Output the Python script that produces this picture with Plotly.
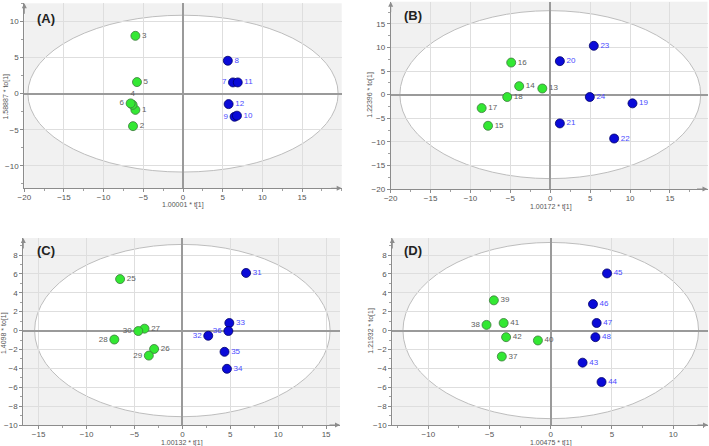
import plotly.graph_objects as go

# ---------------- data ----------------
panel_names = ["(A)", "(B)", "(C)", "(D)"]
x_titles = ["1.00001 * t[1]", "1.00172 * t[1]", "1.00132 * t[1]", "1.00475 * t[1]"]
y_titles = ["1.58887 * to[1]", "1.22396 * to[1]", "1.4098 * to[1]", "1.21932 * to[1]"]

# Panel A
a_labels = ["1", "2", "3", "4", "5", "6", "7", "8", "9", "10", "11", "12"]
a_x = [-6.0, -6.3, -6.0, -6.35, -5.8, -6.6, 6.3, 5.65, 6.5, 6.8, 6.9, 5.75]
a_y = [-2.25, -4.5, 8.0, -1.55, 1.6, -1.35, 1.55, 4.55, -3.2, -3.05, 1.55, -1.45]
a_group = ["g", "g", "g", "g", "g", "g", "b", "b", "b", "b", "b", "b"]

# Panel B
b_labels = ["13", "14", "15", "16", "17", "18", "19", "20", "21", "22", "23", "24"]
b_x = [-1.0, -3.9, -7.8, -4.9, -8.6, -5.4, 10.3, 1.2, 1.2, 8.0, 5.45, 4.95]
b_y = [1.3, 1.8, -6.6, 6.8, -2.85, -0.5, -1.85, 7.1, -6.1, -9.3, 10.35, -0.5]
b_group = ["g", "g", "g", "g", "g", "g", "b", "b", "b", "b", "b", "b"]

# Panel C
c_labels = ["25", "26", "27", "28", "29", "30", "31", "32", "33", "34", "35", "36"]
c_x = [-6.5, -2.95, -3.95, -7.1, -3.5, -4.6, 6.65, 2.7, 4.9, 4.65, 4.4, 4.8]
c_y = [5.45, -1.95, 0.2, -0.95, -2.65, -0.05, 6.1, -0.55, 0.8, -4.05, -2.25, -0.05]
c_group = ["g", "g", "g", "g", "g", "g", "b", "b", "b", "b", "b", "b"]

# Panel D
d_labels = ["37", "38", "39", "40", "41", "42", "43", "44", "45", "46", "47", "48"]
d_x = [-4.0, -5.25, -4.65, -1.05, -3.85, -3.65, 2.6, 4.15, 4.6, 3.45, 3.75, 3.65]
d_y = [-2.75, 0.6, 3.2, -1.05, 0.8, -0.7, -3.4, -5.45, 6.05, 2.8, 0.8, -0.7]
d_group = ["g", "g", "g", "g", "g", "g", "b", "b", "b", "b", "b", "b"]

# Hotelling T2 ellipse semi-axes (x, y)
ellipse_rx = [19.55, 18.85, 15.42, 12.08]
ellipse_ry = [10.85, 17.8, 9.12, 9.33]

# axis ranges and ticks
x_ranges = [[-20, 20], [-20, 19.7], [-16.6, 16.45], [-12.95, 12.85]]
y_ranges = [[-13.1, 12.5], [-20, 19.7], [-10, 9.8], [-10, 9.8]]
x_ticks = [[-20, -15, -10, -5, 0, 5, 10, 15], [-20, -15, -10, -5, 0, 5, 10, 15],
           [-15, -10, -5, 0, 5, 10, 15], [-10, -5, 0, 5, 10]]
y_ticks = [[-10, -5, 0, 5, 10], [-20, -15, -10, -5, 0, 5, 10, 15],
           [-10, -8, -6, -4, -2, 0, 2, 4, 6, 8], [-10, -8, -6, -4, -2, 0, 2, 4, 6, 8]]
x_minor = [2.5, 2.5, 2.5, 2.5]
y_minor = [2.5, 2.5, 1, 1]

# labels placed differently than right of the point
label_pos = {"4": "top center", "6": "middle left", "7": "middle left", "9": "middle left",
             "28": "middle left", "29": "middle left", "30": "middle left",
             "32": "middle left", "36": "middle left", "38": "middle left"}

panels = [
    (a_x, a_y, a_labels, a_group),
    (b_x, b_y, b_labels, b_group),
    (c_x, c_y, c_labels, c_group),
    (d_x, d_y, d_labels, d_group),
]

# ---------------- layout geometry (pixels) ----------------
W, H = 709, 446
x_domains = [[24.3 / W, 341.7 / W], [390.7 / W, 707.5 / W],
             [23.3 / W, 340.0 / W], [392.3 / W, 708.0 / W]]
y_domains = [[1 - 188.3 / H, 1 - 3.3 / H], [1 - 189.0 / H, 1 - 1.7 / H],
             [1 - 425.0 / H, 1 - 238.0 / H], [1 - 425.0 / H, 1 - 238.0 / H]]
letter_x = [0.034, 0.035, 0.037, 0.030]
letter_y = [0.968, 0.975, 0.982, 0.982]
xtitle_pos = [(182.7, 205.0), (550.7, 206.7), (182.3, 442.5), (550.7, 442.5)]
ytitle_pos = [(5.0, 96.5), (369.7, 95.0), (4.0, 333.0), (370.7, 331.0)]

GREEN = "#33e833"
GREEN_EDGE = "#3c7a3c"
BLUE = "#0a0ad8"
BLUE_EDGE = "#00006a"
FONT = "Liberation Sans"
TXT = "#555555"

fig = go.Figure()
shapes = []
annotations = []

for i, (xs, ys, labs, grp) in enumerate(panels):
    sfx = "" if i == 0 else str(i + 1)
    xref, yref = "x" + sfx, "y" + sfx
    for g, col, edge, tcol in [("g", GREEN, GREEN_EDGE, "#606060"), ("b", BLUE, BLUE_EDGE, "#4a4aff")]:
        idx = [k for k in range(len(xs)) if grp[k] == g]
        fig.add_trace(go.Scatter(
            x=[xs[k] for k in idx], y=[ys[k] for k in idx],
            text=[labs[k] for k in idx],
            textposition=[label_pos.get(labs[k], "middle right") for k in idx],
            mode="markers+text",
            marker=dict(size=9, color=col, line=dict(color=edge, width=0.8)),
            textfont=dict(size=8, color=tcol, family=FONT),
            xaxis=xref, yaxis=yref, showlegend=False, hoverinfo="skip",
            cliponaxis=False,
        ))
    # ellipse (white inside, grey outside)
    rx, ry = ellipse_rx[i], ellipse_ry[i]
    shapes.append(dict(type="circle", xref=xref, yref=yref,
                       x0=-rx, x1=rx, y0=-ry, y1=ry,
                       fillcolor="white", line=dict(color="#bdbdbd", width=1),
                       layer="below"))
    ax_common = dict(showgrid=True, gridcolor="#dedede", gridwidth=1,
                     zeroline=True, zerolinecolor="#9a9a9a", zerolinewidth=1.5,
                     showline=True, linecolor="#8c8c8c", linewidth=1,
                     ticks="outside", ticklen=3, tickcolor="#8c8c8c",
                     tickfont=dict(size=8, color=TXT, family=FONT),
                     fixedrange=True, automargin=False)
    fig.update_layout(**{
        "xaxis" + sfx: dict(ax_common, domain=x_domains[i], range=x_ranges[i],
                            tickvals=x_ticks[i], anchor=yref, ticklabelstandoff=-2,
                            minor=dict(dtick=x_minor[i], ticks="outside", ticklen=2,
                                       tickcolor="#a0a0a0", showgrid=False)),
        "yaxis" + sfx: dict(ax_common, domain=y_domains[i], range=y_ranges[i],
                            tickvals=y_ticks[i], anchor=xref,
                            minor=dict(dtick=y_minor[i], ticks="outside", ticklen=2,
                                       tickcolor="#a0a0a0", showgrid=False)),
    })
    # axis titles
    tx, ty = xtitle_pos[i]
    annotations.append(dict(text=x_titles[i], xref="paper", yref="paper",
                            x=tx / W, y=1 - ty / H, xanchor="center", yanchor="middle",
                            showarrow=False, font=dict(size=7, color=TXT, family=FONT)))
    tx, ty = ytitle_pos[i]
    annotations.append(dict(text=y_titles[i], xref="paper", yref="paper", textangle=-90,
                            x=tx / W, y=1 - ty / H, xanchor="center", yanchor="middle",
                            showarrow=False, font=dict(size=7, color=TXT, family=FONT)))
    # panel letter
    annotations.append(dict(text="<b>" + panel_names[i] + "</b>", xref=xref + " domain",
                            yref=yref + " domain", x=letter_x[i], y=letter_y[i],
                            xanchor="left", yanchor="top", showarrow=False,
                            font=dict(size=13, color="#222222", family=FONT)))
    # axis arrows
    annotations.append(dict(x=1.0, y=0, xref=xref + " domain", yref=yref + " domain",
                            ax=-12, ay=0, axref="pixel", ayref="pixel", text="",
                            showarrow=True, arrowhead=2, arrowsize=1, arrowwidth=1,
                            arrowcolor="#8c8c8c"))
    annotations.append(dict(x=0, y=1.0, xref=xref + " domain", yref=yref + " domain",
                            ax=0, ay=12, axref="pixel", ayref="pixel", text="",
                            showarrow=True, arrowhead=2, arrowsize=1, arrowwidth=1,
                            arrowcolor="#8c8c8c"))

fig.update_layout(
    width=W, height=H,
    margin=dict(l=0, r=0, t=0, b=0, autoexpand=False),
    paper_bgcolor="white",
    plot_bgcolor="#f1f1f1",
    shapes=shapes,
    annotations=annotations,
    font=dict(family=FONT),
)

fig.write_html(
    "out.html",
    config={"displayModeBar": False},
    post_script="document.body.style.margin='0';document.body.style.overflow='hidden';",
)
